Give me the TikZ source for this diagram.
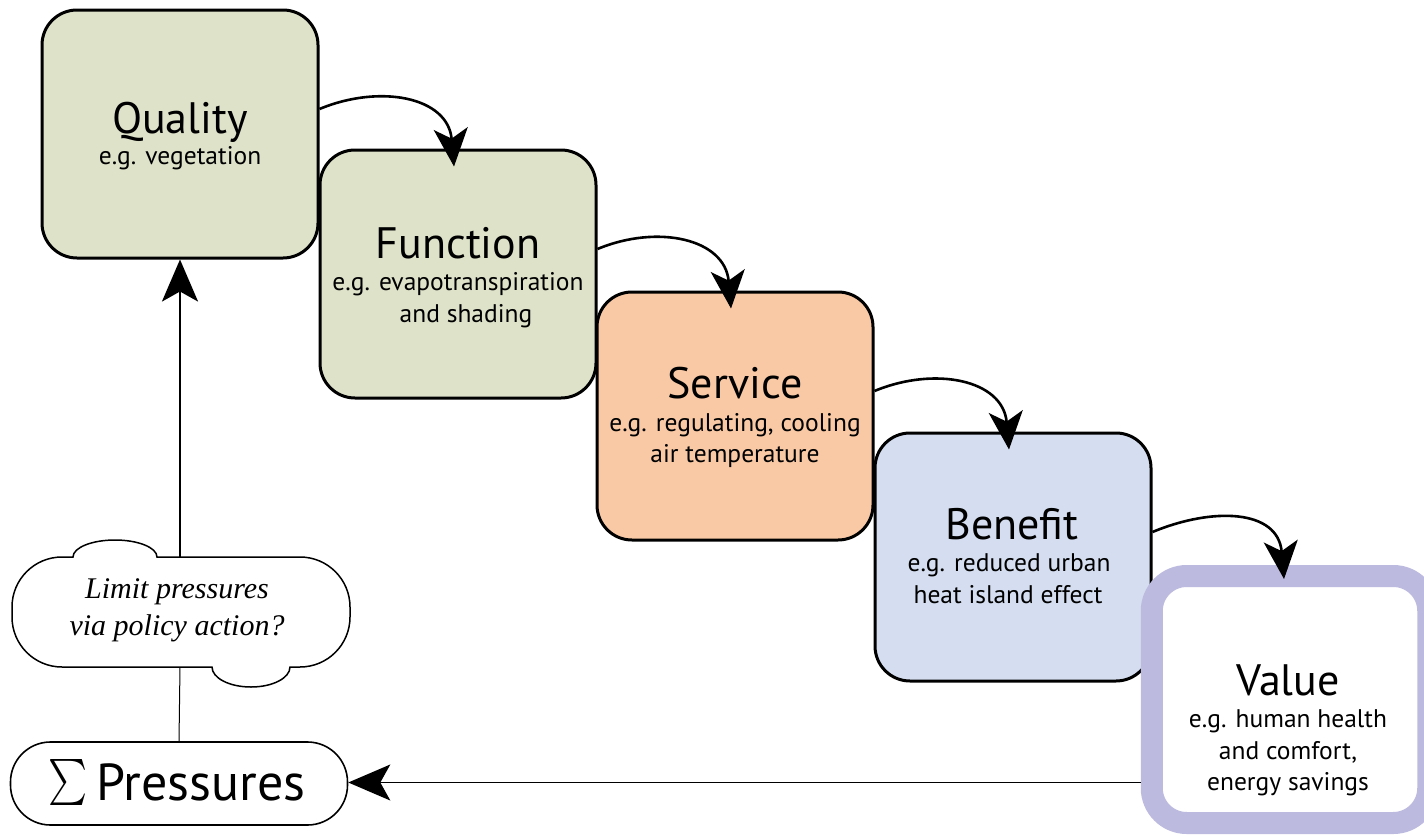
\documentclass[tikz,border=0pt]{standalone}
\usepackage{fontspec}
\setmainfont{PT Sans}
\newfontfamily\cloudfont{Liberation Serif}
\usetikzlibrary{arrows.meta,calc}
\definecolor{qfill}{RGB}{221,226,201}
\definecolor{sfill}{RGB}{249,201,165}
\definecolor{bfill}{RGB}{213,222,240}
\definecolor{vline}{RGB}{188,186,222}
\begin{document}
\begin{tikzpicture}[x=1pt,y=-1pt,
  box/.style={draw=black,line width=3pt,rounded corners=35pt,minimum width=276pt,minimum height=248pt,inner sep=0pt},
  ttl/.style={font=\fontsize{44}{48}\selectfont,inner sep=0pt,anchor=base},
  sub/.style={font=\fontsize{25.5}{30}\selectfont,inner sep=0pt,anchor=base},
  flow/.style={line width=2.6pt,-{Stealth[length=38pt,width=34pt,inset=10pt]}},
  bigtip/.style={-{Stealth[length=42pt,width=36pt,inset=10pt]}},
]
\useasboundingbox (0,0) rectangle (1424,835);
\clip (0,0) rectangle (1424,835);

% boxes
\node[box,fill=qfill] (q) at (180,134) {};
\node[box,fill=qfill] (f) at (458,274) {};
\node[box,fill=sfill] (s) at (735,416) {};
\node[box,fill=bfill] (b) at (1013,557) {};
\node[box,draw=vline,line width=22pt,fill=white,minimum width=276.5pt,minimum height=247pt] (v) at (1290,699.5) {};

% texts
\node[ttl] (qt) at (180,133) {Quality};
\node[sub] (qs1) at (180,164) {e.g. vegetation};
\node[ttl] (ft) at (458,258) {Function};
\node[sub] (fs1) at (458,290) {e.g. evapotranspiration};
\node[sub] (fs2) at (466,322) {and shading};
\node[ttl] (st) at (735,398) {Service};
\node[sub] (ss1) at (735,431) {e.g. regulating, cooling};
\node[sub] (ss2) at (735,462) {air temperature};
\node[ttl] (bt) at (1012,539) {Benefit};
\node[sub] (bs1) at (1009,571) {e.g. reduced urban};
\node[sub] (bs2) at (1008,603) {heat island effect};
\node[ttl] (vt) at (1288,695) {Value};
\node[sub] (vs1) at (1288,727) {e.g. human health};
\node[sub] (vs2) at (1288,759) {and comfort,};
\node[sub] (vs3) at (1288,790) {energy savings};

% pressures
\node[draw=black,line width=1.6pt,rounded corners=40pt,minimum width=337pt,minimum height=83pt,inner sep=0pt] (p) at (179,783.5) {};
\node[font=\fontsize{52}{56}\selectfont,inner sep=0pt,anchor=base] (pt) at (177,800) {\raisebox{-11pt}{\scalebox{3.7}[4.6]{$\sum$}}\,Pressures};

% cloud
\coordinate (ctop) at (180,557);
\coordinate (cbot) at (180,667);
\draw[line width=1.5pt,fill=white]
  (62,557) -- (73,557)
  arc[start angle=180,end angle=0,x radius=42pt,y radius=17pt]
  -- (300,557) arc[start angle=90,end angle=0,radius=50pt] -- (350,617)
  arc[start angle=0,end angle=-90,radius=50pt] -- (290,667)
  arc[start angle=0,end angle=-180,x radius=39pt,y radius=20pt]
  -- (62,667) arc[start angle=-90,end angle=-180,radius=50pt] -- (12,607)
  arc[start angle=180,end angle=90,radius=50pt] -- cycle;
\node[font=\cloudfont\itshape\fontsize{30}{34}\selectfont,inner sep=0pt,anchor=base] (c1) at (177,598) {Limit pressures};
\node[font=\cloudfont\itshape\fontsize{30}{34}\selectfont,inner sep=0pt,anchor=base] (c2) at (177,635) {via policy action?};

% connectors
\draw[line width=1pt] (p.north) -- (cbot);
\draw[line width=2.4pt,bigtip] (ctop) -- (q.south);
\coordinate (vw) at ([yshift=-83pt]v.west);
\draw[line width=1.2pt,bigtip] (vw) -- (vw -| p.east);

\foreach \a/\b in {q/f,f/s,s/b} {
  \draw[flow] ([yshift=25pt]\a.east) .. controls +(60,-25) and +(-6,-70) .. ([xshift=-4pt,yshift=-18pt]\b.north);
}
\draw[flow] ([yshift=25pt]b.east) .. controls +(60,-25) and +(-6,-70) .. ([xshift=-6pt,yshift=-14pt]v.north);
\end{tikzpicture}
\end{document}
